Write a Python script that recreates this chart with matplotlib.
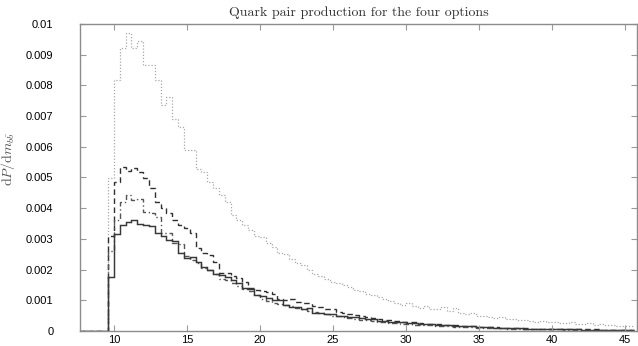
"""Quark pair production histograms for the four options."""

import matplotlib

matplotlib.use("Agg")

import matplotlib.pyplot as plt
import numpy as np
from matplotlib.ticker import FuncFormatter

plt.rcParams["mathtext.fontset"] = "cm"

# histogram bins: width 0.4 starting at the b-bbar threshold
bin_start = 9.6
bin_width = 0.4

# dP/dm per bin, in units of 1e-3
opt_dotted = [
    4.98, 8.18, 9.21, 9.70, 9.21, 9.46, 8.66, 8.66, 8.18, 7.36,
    7.61, 6.90, 6.63, 5.90, 5.90, 5.28, 5.19, 4.86, 4.65, 4.43,
    4.21, 3.78, 3.60, 3.45, 3.30, 3.10, 3.05, 2.85, 2.72, 2.55,
    2.50, 2.35, 2.20, 2.15, 2.00, 1.85, 1.78, 1.70, 1.60, 1.55,
    1.50, 1.42, 1.35, 1.30, 1.22, 1.18, 1.10, 1.05, 0.98, 0.90,
    0.85, 0.90, 0.80, 0.75, 0.82, 0.70, 0.72, 0.78, 0.65, 0.75,
    0.60, 0.55, 0.58, 0.50, 0.48, 0.45, 0.42, 0.44, 0.40, 0.38,
    0.35, 0.36, 0.33, 0.30, 0.32, 0.28, 0.30, 0.27, 0.25, 0.28,
    0.24, 0.22, 0.25, 0.20, 0.22, 0.18, 0.20, 0.16, 0.17, 0.15,
]
opt_dashed = [
    3.10, 4.86, 5.33, 5.22, 5.30, 5.19, 4.97, 4.65, 4.21, 4.00,
    3.83, 3.62, 3.45, 3.34, 3.18, 2.70, 2.55, 2.48, 2.26, 1.90,
    1.88, 1.80, 1.72, 1.60, 1.40, 1.35, 1.30, 1.28, 1.20, 1.05,
    1.02, 1.05, 0.95, 0.92, 0.90, 0.80, 0.78, 0.72, 0.70, 0.62,
    0.60, 0.55, 0.52, 0.50, 0.45, 0.42, 0.40, 0.36, 0.35, 0.32,
    0.30, 0.28, 0.29, 0.25, 0.24, 0.22, 0.23, 0.20, 0.18, 0.19,
    0.16, 0.15, 0.16, 0.14, 0.13, 0.12, 0.12, 0.11, 0.10, 0.10,
    0.09, 0.09, 0.08, 0.08, 0.07, 0.07, 0.07, 0.06, 0.06, 0.06,
    0.05, 0.05, 0.05, 0.05, 0.04, 0.04, 0.04, 0.04, 0.03, 0.03,
]
opt_dashdot = [
    2.60, 3.60, 4.21, 4.43, 4.27, 4.30, 3.89, 3.85, 3.72, 3.18,
    3.18, 2.85, 2.83, 2.45, 2.30, 2.20, 2.05, 1.98, 1.85, 1.70,
    1.65, 1.55, 1.48, 1.38, 1.30, 1.18, 1.05, 0.98, 0.92, 0.88,
    0.85, 0.80, 0.74, 0.70, 0.66, 0.62, 0.58, 0.55, 0.50, 0.48,
    0.45, 0.42, 0.40, 0.37, 0.35, 0.32, 0.30, 0.29, 0.27, 0.25,
    0.24, 0.22, 0.21, 0.20, 0.19, 0.18, 0.17, 0.16, 0.15, 0.14,
    0.13, 0.12, 0.12, 0.11, 0.10, 0.10, 0.09, 0.09, 0.08, 0.08,
    0.07, 0.07, 0.06, 0.06, 0.06, 0.05, 0.05, 0.05, 0.04, 0.04,
    0.04, 0.04, 0.03, 0.03, 0.03, 0.03, 0.03, 0.02, 0.02, 0.02,
]
opt_solid = [
    1.77, 3.17, 3.45, 3.55, 3.62, 3.50, 3.45, 3.42, 3.18, 3.10,
    2.96, 2.93, 2.53, 2.38, 2.40, 2.26, 2.10, 2.00, 1.86, 1.84,
    1.75, 1.66, 1.56, 1.40, 1.38, 1.17, 1.14, 1.06, 1.02, 1.00,
    0.85, 0.77, 0.77, 0.73, 0.76, 0.58, 0.58, 0.55, 0.56, 0.50,
    0.48, 0.45, 0.46, 0.42, 0.38, 0.39, 0.32, 0.33, 0.30, 0.28,
    0.30, 0.26, 0.27, 0.24, 0.22, 0.23, 0.20, 0.19, 0.18, 0.17,
    0.16, 0.15, 0.15, 0.13, 0.12, 0.12, 0.11, 0.10, 0.10, 0.09,
    0.09, 0.08, 0.08, 0.07, 0.07, 0.06, 0.06, 0.06, 0.05, 0.05,
    0.05, 0.04, 0.04, 0.04, 0.04, 0.03, 0.03, 0.03, 0.03, 0.03,
]

x_ticks = [10, 15, 20, 25, 30, 35, 40, 45]
y_ticks = [0, 0.001, 0.002, 0.003, 0.004, 0.005, 0.006, 0.007, 0.008, 0.009, 0.01]


def with_floor(vals):
    # empty bin below threshold so the step rises from zero
    return np.concatenate([[0.0], np.asarray(vals) * 1e-3])


n_bins = len(opt_solid)
edges = bin_start + bin_width * np.arange(n_bins + 1)
edges = np.concatenate([[7.0], edges])

fig = plt.figure(figsize=(6.38, 3.46), dpi=100)
ax = fig.add_axes([0.1254, 0.0434, 0.8736, 0.8872])

ax.stairs(with_floor(opt_dotted), edges, baseline=None, color="#a8a8a8", lw=0.9, ls=(0, (1, 1.5)))
ax.stairs(with_floor(opt_dashed), edges, baseline=None, color="#303030", lw=1.0, ls=(0, (4, 2.5)))
ax.stairs(with_floor(opt_dashdot), edges, baseline=None, color="#555555", lw=1.0, ls=(0, (4, 2, 1, 2)))
ax.stairs(with_floor(opt_solid), edges, baseline=None, color="#383838", lw=1.05)

ax.set_xlim(7.68, 45.86)
ax.set_ylim(0, 0.01)
ax.set_xticks(x_ticks)
ax.set_yticks(y_ticks)
ax.yaxis.set_major_formatter(FuncFormatter(lambda v, _: f"{v:g}"))

for side in ax.spines.values():
    side.set_color("#8c8c8c")
    side.set_linewidth(1.0)
ax.tick_params(direction="in", top=True, right=True, length=4.5, width=0.8,
               color="#9a9a9a", labelsize=8)
ax.tick_params(axis="x", pad=3)
ax.tick_params(axis="y", pad=19)
for lbl in ax.get_xticklabels() + ax.get_yticklabels():
    lbl.set_fontfamily("Liberation Sans")

ax.set_title("Quark pair production for the four options", family="cmr10",
             fontsize=10, color="#333333", pad=6)
ax.set_ylabel(r"$\mathrm{d}P/\mathrm{d}m_{b\bar{b}}$", fontsize=10,
              color="#555555")
ax.yaxis.set_label_coords(-0.113, 0.56)

fig.savefig("out.png", dpi=100)
